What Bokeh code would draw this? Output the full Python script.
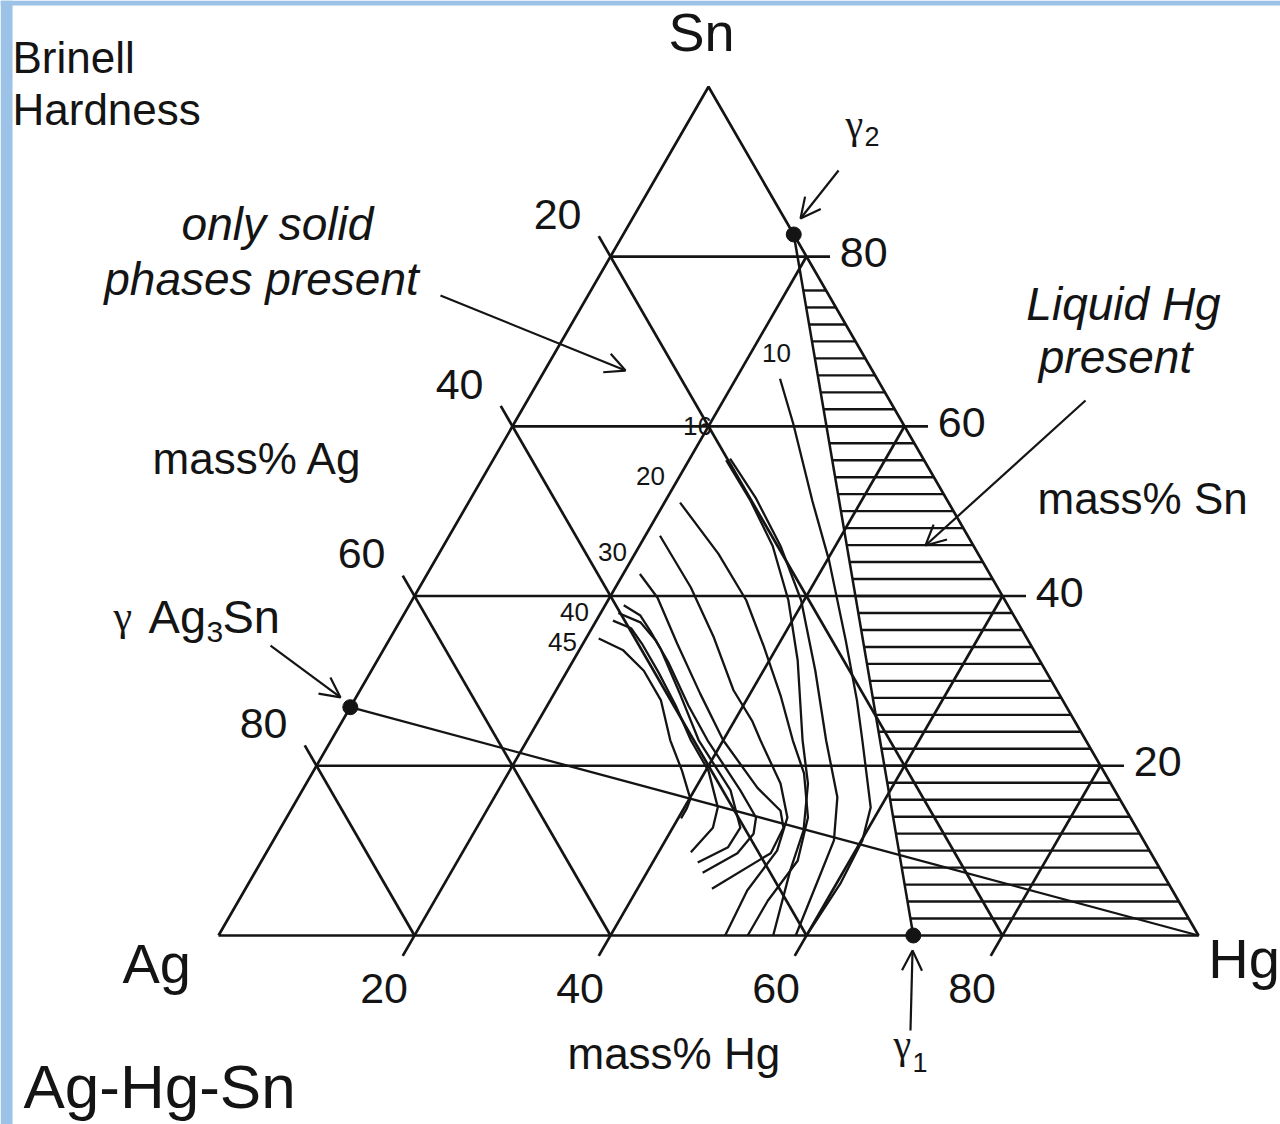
import numpy as np
from bokeh.plotting import figure
from bokeh.models import Range1d, Arrow, OpenHead
from bokeh.core.properties import value
from bokeh.embed import file_html
from bokeh.resources import INLINE

# ---------------- data (mass %) ----------------
grid_levels = [20, 40, 60, 80]
tick_labels = ["20", "40", "60", "80"]

# invariant compositions (Hg %, Sn %)
gamma_ag3sn = (0.0, 26.9)
gamma_1 = (70.9, 0.0)
gamma_2 = (17.4, 82.6)

# hatching of the "liquid Hg present" field (Sn levels)
hatch_sn = list(range(2, 78, 2))

# Brinell hardness contours (Hg %, Sn %)
c45_hg = [21.3, 24.5, 27.8, 31.3, 34.6, 37.6, 40.1, 40.3, 40.3]
c45_sn = [35.0, 33.6, 31.2, 27.7, 23.0, 19.4, 16.1, 15.0, 13.8]
c42_hg = [21.7, 24.0, 26.0, 29.4, 33.1, 36.7, 40.3, 43.4, 44.1, 43.3]
c42_sn = [37.1, 36.2, 34.4, 31.0, 27.1, 23.0, 19.4, 15.1, 12.7, 9.8]
c40_hg = [21.9, 24.2, 26.1, 28.2, 33.0, 37.5, 43.7, 46.9, 46.8, 44.6]
c40_sn = [38.9, 37.7, 35.9, 33.8, 28.3, 23.0, 17.1, 12.7, 10.4, 8.6]
c35_hg = [21.8, 24.6, 27.2, 29.8, 34.4, 38.4, 44.7, 47.9, 48.6, 48.1, 45.7]
c35_sn = [38.0, 36.9, 34.8, 32.2, 27.1, 23.0, 17.1, 13.9, 12.0, 9.7, 7.4]
c30_hg = [21.7, 24.9, 29.6, 34.9, 40.0, 46.3, 50.0, 51.3, 51.5, 47.6]
c30_sn = [42.6, 39.8, 34.4, 28.5, 23.0, 17.4, 14.7, 12.7, 9.7, 5.5]
c25_hg = [21.5, 27.7, 33.0, 38.1, 41.8, 43.8, 48.4, 51.1, 52.0, 51.3, 51.7]
c25_sn = [47.1, 41.0, 35.1, 28.9, 25.3, 23.0, 17.9, 13.9, 10.0, 5.3, 0.0]
c20_hg = [21.6, 28.5, 34.1, 38.5, 43.2, 47.1, 50.2, 53.2, 54.7, 54.0, 54.0]
c20_sn = [51.0, 45.0, 39.5, 34.2, 28.3, 23.0, 19.1, 13.9, 8.8, 4.1, 0.0]
c16a_hg = [23.8, 28.7, 33.6, 38.4, 42.9, 48.1, 51.2, 53.5, 54.5, 56.6]
c16a_sn = [56.0, 51.2, 45.9, 39.5, 32.4, 23.0, 17.9, 12.4, 7.7, 0.0]
c16b_hg = [24.1, 29.0, 34.4, 39.7, 45.3, 50.5, 55.0, 57.2, 57.8, 58.9]
c16b_sn = [56.2, 51.6, 45.9, 39.5, 31.2, 23.0, 16.3, 11.2, 7.3, 0.0]
c10_hg = [24.5, 28.5, 35.0, 40.2, 46.6, 51.3, 54.2, 59.0, 60.1, 60.4, 60.0]
c10_sn = [65.6, 60.3, 51.2, 44.2, 34.8, 27.7, 23.0, 15.1, 11.2, 6.1, 0.0]

contour_values = ["10", "16", "20", "30", "40", "45"]

# ---------------- helpers ----------------
S3 = np.sqrt(3) / 2


def tx(hg, sn):
    return np.asarray(hg, dtype=float) + np.asarray(sn, dtype=float) / 2


def ty(sn):
    return np.asarray(sn, dtype=float) * S3


FONT = value("Liberation Sans")
SERIF = value("Liberation Serif")
INK = "#141414"

X0 = -218 / 9.8
X1 = X0 + 1280 / 9.8
Y1 = 935 / 9.8
Y0 = Y1 - 1124 / 9.8

p = figure(width=1280, height=1124, x_range=Range1d(X0, X1), y_range=Range1d(Y0, Y1),
           output_backend="svg", toolbar_location=None, min_border=0,
           x_axis_type=None, y_axis_type=None)
p.grid.visible = False
p.outline_line_color = None
p.background_fill_color = "white"
p.border_fill_color = "white"

# light blue frame strips (left and top)
p.quad(left=X0, right=(12 - 218) / 9.8, bottom=Y0, top=Y1, fill_color="#9cc2e8", line_color=None)
p.quad(left=X0, right=X1, bottom=(935 - 5) / 9.8, top=Y1, fill_color="#9cc2e8", line_color=None)

# ---------------- grid & triangle ----------------
TICK = 2.4
gx, gy = [], []
gx.append([0, 100, 50, 0])
gy.append([0, 0, 100 * S3, 0])
for v in grid_levels:
    # constant Sn (horizontal), extended as tick on the right
    gx.append([float(tx(0, v)), float(tx(100 - v, v)) + TICK])
    gy.append([float(ty(v)), float(ty(v))])
    # constant Ag = v, parallel to Sn-Hg side, tick beyond left side
    xs0, ys0 = float(tx(0, 100 - v)), float(ty(100 - v))
    gx.append([xs0 - TICK * 0.5, float(tx(100 - v, 0))])
    gy.append([ys0 + TICK * S3, 0.0])
    # constant Hg = v, parallel to Ag-Sn side, tick below bottom
    gx.append([v - TICK * 0.5, float(tx(v, 100 - v))])
    gy.append([-TICK * S3, float(ty(100 - v))])
p.multi_line(gx, gy, line_color=INK, line_width=2.7)

# ---------------- hatching ----------------
hx, hy = [], []
for s in hatch_sn:
    hg_left = gamma_1[0] + (gamma_2[0] - gamma_1[0]) * s / gamma_2[1]
    hx.append([float(tx(hg_left, s)), float(tx(100 - s, s))])
    hy.append([float(ty(s)), float(ty(s))])
p.multi_line(hx, hy, line_color=INK, line_width=2.4)

# gamma1 - gamma2 boundary
p.line(tx([gamma_1[0], gamma_2[0]], [gamma_1[1], gamma_2[1]]),
       ty([gamma_1[1], gamma_2[1]]), line_color=INK, line_width=2.5)
# gamma Ag3Sn - Hg tie line
p.line(tx([gamma_ag3sn[0], 100], [gamma_ag3sn[1], 0]), ty([gamma_ag3sn[1], 0]),
       line_color=INK, line_width=2.3)

# ---------------- hardness contours ----------------
curves = [(c45_hg, c45_sn), (c42_hg, c42_sn), (c40_hg, c40_sn), (c35_hg, c35_sn),
          (c30_hg, c30_sn), (c25_hg, c25_sn), (c20_hg, c20_sn), (c16a_hg, c16a_sn),
          (c16b_hg, c16b_sn), (c10_hg, c10_sn)]
p.multi_line([list(tx(h, s)) for h, s in curves], [list(ty(s)) for h, s in curves],
             line_color=INK, line_width=2.3, line_join="round")

# ---------------- points ----------------
pts = [gamma_ag3sn, gamma_1, gamma_2]
p.scatter(tx([a for a, b in pts], [b for a, b in pts]), ty([b for a, b in pts]),
          size=15, fill_color=INK, line_color=INK)

# ---------------- tick labels ----------------
lx = [float(tx(0, 100 - v)) - 5.4 for v in grid_levels]
ly = [float(ty(100 - v)) + 4.3 for v in grid_levels]
p.text(lx, ly, text=tick_labels, text_font=FONT, text_font_size="43px",
       text_align="center", text_baseline="middle", text_color=INK)
rx = [float(tx(100 - v, v)) + 3.4 for v in grid_levels]
ry = [float(ty(v)) + 0.4 for v in grid_levels]
p.text(rx, ry, text=tick_labels, text_font=FONT, text_font_size="43px",
       text_align="left", text_baseline="middle", text_color=INK)
bx = [v - 3.1 for v in grid_levels]
by = [-5.4 for v in grid_levels]
p.text(bx, by, text=tick_labels, text_font=FONT, text_font_size="43px",
       text_align="center", text_baseline="middle", text_color=INK)

# contour value labels
p.text([56.94, 48.88, 44.08, 40.2, 36.33, 35.1], [59.39, 52.04, 46.84, 39.18, 32.96, 29.9],
       text=contour_values, text_font=FONT, text_font_size="26px",
       text_align="center", text_baseline="middle", text_color=INK)


def label(x, y, t, size, align="left", style="normal", font=FONT):
    p.text([x], [y], text=[t], text_font=font, text_font_size=size, text_align=align,
           text_baseline="middle", text_color=INK, text_font_style=style)


label(45.92, 92.24, "Sn", "54px")
label(-9.80, -2.90, "Ag", "56px")
label(101.0, -2.39, "Hg", "56px")
label(-19.90, -15.42, "Ag-Hg-Sn", "62px")
label(-21.02, 89.63, "Brinell", "44px")
label(-21.02, 84.33, "Hardness", "44px")
label(-6.73, 48.71, "mass% Ag", "44px")
label(83.57, 44.63, "mass% Sn", "44px")
label(35.61, -12.0, "mass% Hg", "44px")
label(6.02, 72.56, "only solid", "46px", "center", "italic")
label(4.39, 66.95, "phases present", "46px", "center", "italic")
label(92.35, 64.4, "Liquid Hg", "46px", "center", "italic")
label(91.53, 58.99, "present", "46px", "center", "italic")

# gamma labels
label(63.98, 82.76, "\u03b3", "40px", font=SERIF)
label(65.92, 81.48, "2", "27px")
label(68.88, -11.12, "\u03b3", "40px", font=SERIF)
label(70.82, -13.01, "1", "27px")
label(-10.71, 32.62, "\u03b3", "42px", font=SERIF)
label(-7.14, 32.6, "Ag", "47px")
label(-1.22, 30.97, "3", "30px")
label(0.41, 32.6, "Sn", "47px")

# ---------------- arrows ----------------
arrows = [((22.65, 65.31), (41.53, 57.65)),
          ((88.47, 54.59), (72.14, 39.80)),
          ((63.27, 78.06), (59.39, 73.16)),
          ((5.31, 29.59), (12.45, 24.29)),
          ((70.61, -9.69), (70.82, -1.53))]
for (xs, ys), (xe, ye) in arrows:
    p.add_layout(Arrow(end=OpenHead(size=20, line_width=2.2, line_color=INK),
                       x_start=xs, y_start=ys, x_end=xe, y_end=ye,
                       line_width=2.2, line_color=INK))

open("out.html", "w").write(file_html(p, INLINE))
